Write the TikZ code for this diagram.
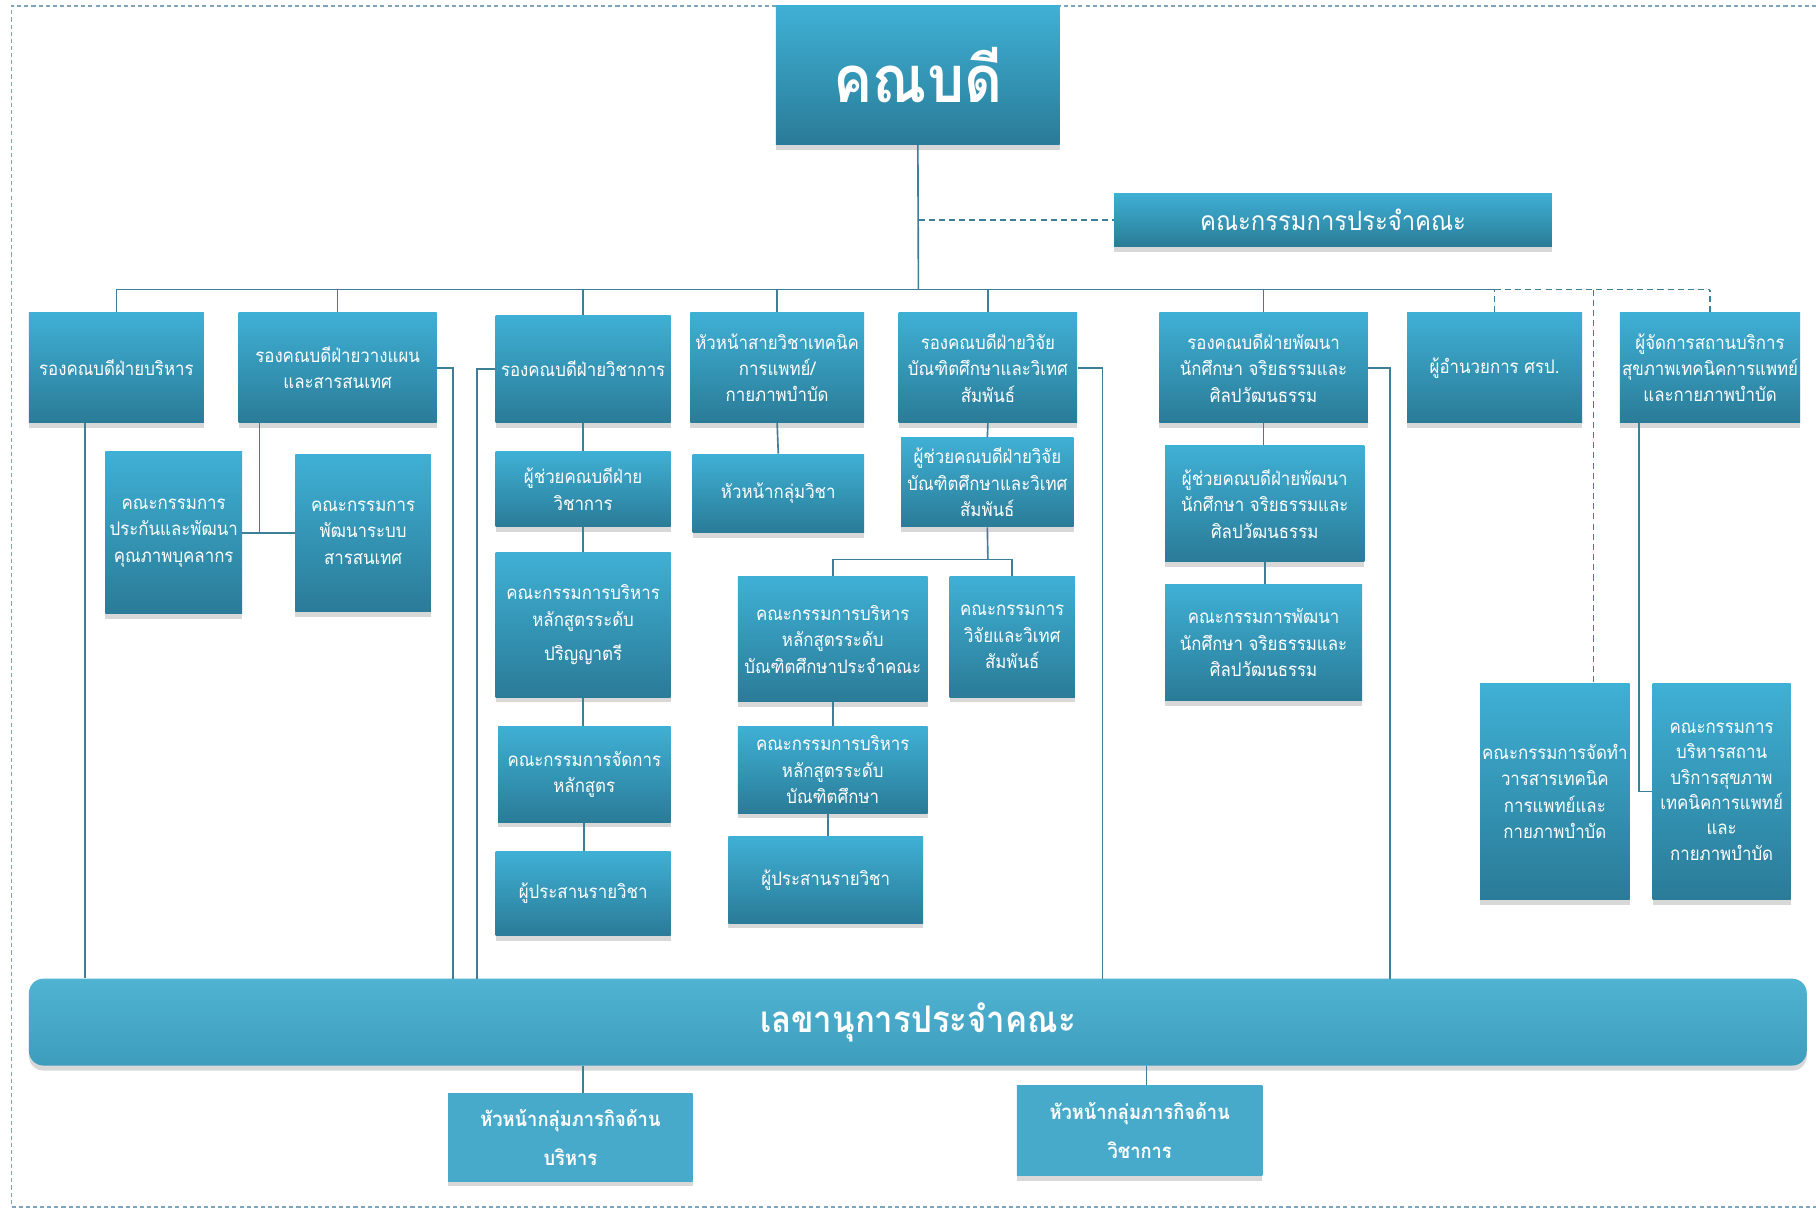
\documentclass[tikz,border=0pt]{standalone}
\usepackage{fontspec}
\setmainfont[Script=Thai,FakeStretch=0.9]{Loma}
\usetikzlibrary{calc,shadows}
\definecolor{boxtop}{HTML}{3FB0D5}
\definecolor{boxbot}{HTML}{2A7B97}
\definecolor{lnc}{HTML}{3D7F96}
\definecolor{brd}{HTML}{7FA3BA}
\definecolor{flatc}{HTML}{48AACA}
\definecolor{bartop}{HTML}{50B3D2}
\definecolor{barbot}{HTML}{3E9DBD}
\newcommand\orgbox[7][]{%
 \pgfmathsetmacro\bw{(#5-#3)*0.02}%
 \pgfmathsetmacro\bh{(#6-#4)*0.02}%
 \node[bx,#1,minimum width=\bw cm,minimum height=\bh cm] (#2) at ({(#3+#5)/2},{(#4+#6)/2}) {#7};}
\tikzset{
 bx/.style={draw=none,top color=boxtop,bottom color=boxbot,text=white,align=center,inner sep=1pt,
   font=\fontsize{9.2}{13}\selectfont,
   drop shadow={opacity=0.3,shadow xshift=0pt,shadow yshift=-2.5pt}},
 flatbox/.style={top color=flatc,bottom color=flatc,font=\fontsize{10}{19}\selectfont\bfseries},
 ln/.style={draw=lnc,line width=0.8pt},
 dsh/.style={dash pattern=on 3pt off 2pt}
}
\begin{document}
\begin{tikzpicture}[x=0.02cm,y=-0.02cm]
\fill[white] (0,0) rectangle (1568,1051);
\useasboundingbox (0,0) rectangle (1568,1051);
\draw[brd,line width=0.8pt,dash pattern=on 2pt off 1.5pt] (1568,5) -- (10,5) -- (10,1042) -- (1568,1042);

% top
\orgbox[font=\fontsize{32}{36}\selectfont\bfseries]{dean}{670}{5}{915}{125}{คณบดี}
\orgbox[font=\fontsize{13}{16}\selectfont]{comm}{962}{167}{1340}{213}{คณะกรรมการประจำคณะ}

% row 1
\orgbox{b1}{25}{270}{176}{365}{รองคณบดีฝ่ายบริหาร}
\orgbox{b2}{206}{270}{377}{365}{รองคณบดีฝ่ายวางแผน\\และสารสนเทศ}
\orgbox{b3}{428}{272}{579}{365}{รองคณบดีฝ่ายวิชาการ}
\orgbox{b4}{596}{270}{746}{365}{หัวหน้าสายวิชาเทคนิค\\การแพทย์/\\กายภาพบำบัด}
\orgbox{b5}{776}{270}{930}{365}{รองคณบดีฝ่ายวิจัย\\บัณฑิตศึกษาและวิเทศ\\สัมพันธ์}
\orgbox{b6}{1001}{270}{1181}{365}{รองคณบดีฝ่ายพัฒนา\\นักศึกษา จริยธรรมและ\\ศิลปวัฒนธรรม}
\orgbox{b7}{1215}{270}{1366}{365}{ผู้อำนวยการ ศรป.}
\orgbox{b8}{1400}{270}{1553}{365}{ผู้จัดการสถานบริการ\\สุขภาพเทคนิคการแพทย์\\และกายภาพบำบัด}

% under b2
\orgbox{q1}{91}{390}{209}{530}{คณะกรรมการ\\ประกันและพัฒนา\\คุณภาพบุคลากร}
\orgbox{q2}{255}{392}{372}{528}{คณะกรรมการ\\พัฒนาระบบ\\สารสนเทศ}

% under b3
\orgbox{a1}{428}{390}{579}{455}{ผู้ช่วยคณบดีฝ่าย\\วิชาการ}
\orgbox{a2}{428}{477}{579}{602}{คณะกรรมการบริหาร\\หลักสูตรระดับ\\[4pt]ปริญญาตรี}
\orgbox{a3}{430}{627}{579}{710}{คณะกรรมการจัดการ\\หลักสูตร}
\orgbox{a4}{428}{735}{579}{808}{ผู้ประสานรายวิชา}

% under b4
\orgbox{h1}{598}{392}{746}{460}{หัวหน้ากลุ่มวิชา}

% under b5
\orgbox{r1}{778}{378}{927}{455}{ผู้ช่วยคณบดีฝ่ายวิจัย\\บัณฑิตศึกษาและวิเทศ\\สัมพันธ์}
\orgbox{g1}{637}{498}{801}{606}{คณะกรรมการบริหาร\\หลักสูตรระดับ\\บัณฑิตศึกษาประจำคณะ}
\orgbox{rv}{820}{498}{928}{602}{คณะกรรมการ\\วิจัยและวิเทศ\\สัมพันธ์}
\orgbox{g2}{637}{627}{801}{702}{คณะกรรมการบริหาร\\หลักสูตรระดับ\\บัณฑิตศึกษา}
\orgbox{g3}{629}{722}{797}{797}{ผู้ประสานรายวิชา}

% under b6
\orgbox{s1}{1006}{385}{1178}{485}{ผู้ช่วยคณบดีฝ่ายพัฒนา\\นักศึกษา จริยธรรมและ\\ศิลปวัฒนธรรม}
\orgbox{s2}{1006}{505}{1176}{605}{คณะกรรมการพัฒนา\\นักศึกษา จริยธรรมและ\\ศิลปวัฒนธรรม}

% right
\orgbox{jour}{1280}{590}{1405}{777}{คณะกรรมการจัดทำ\\วารสารเทคนิค\\การแพทย์และ\\กายภาพบำบัด}
\orgbox[font=\fontsize{9.2}{12.5}\selectfont]{bc}{1427}{590}{1546}{777}{คณะกรรมการ\\บริหารสถาน\\บริการสุขภาพ\\เทคนิคการแพทย์\\และ\\กายภาพบำบัด}

% secretary bar
\orgbox[rounded corners=0.25cm,top color=bartop,bottom color=barbot,font=\fontsize{18}{22}\selectfont\bfseries]{bar}{25}{845}{1560}{920}{เลขานุการประจำคณะ}

\orgbox[flatbox]{k1}{387}{944}{598}{1020}{หัวหน้ากลุ่มภารกิจด้าน\\บริหาร}
\orgbox[flatbox]{k2}{878}{937}{1090}{1015}{หัวหน้ากลุ่มภารกิจด้าน\\วิชาการ}

% ---- connectors ----
\coordinate (busy) at (793,250);
\draw[ln] (dean.south) -- (busy);
\draw[ln,dsh] (busy |- comm.west) -- (comm.west);
\draw[ln] (b1.north |- busy) -- (b7.north |- busy);
\draw[ln,dsh] (b7.north |- busy) -- (b8.north |- busy);
\foreach \n in {b1,b2,b3,b4,b5,b6}{\draw[ln] (\n.north) -- (\n.north |- busy);}
\draw[ln,dsh] (b7.north) -- (b7.north |- busy);
\draw[ln,dsh] (b8.north) -- (b8.north |- busy);
\coordinate (dj) at (1376,250);
\draw[ln,dsh] (dj) -- (dj |- jour.north);

% left group
\coordinate (v1) at ($(b1.south west)+(49,0)$);
\draw[ln] (v1) -- (v1 |- bar.north);
\coordinate (j2) at (224,460);
\draw[ln] (j2 |- b2.south) -- (j2);
\draw[ln] (q1.east) -- (q2.west);
\coordinate (v2) at (391,845);
\draw[ln] (b2.east) -| (v2);
\coordinate (v3) at (412,845);
\draw[ln] (b3.west) -| (v3);

% academic column
\draw[ln] (b3.south) -- (a1.north);
\draw[ln] (a1.south) -- (a2.north);
\draw[ln] (a2.south) -- (a2.south |- a3.north);
\draw[ln] (a3.south) -- (a3.south |- a4.north);
\draw[ln] (b4.south) -- (h1.north);

% research column
\draw[ln] (b5.south) -- (r1.north);
\coordinate (j5) at (853,483);
\draw[ln] (r1.south) -- (j5);
\draw[ln] (g1.north) |- (j5);
\draw[ln] (rv.north) |- (j5);
\draw[ln] (g1.south) -- (g2.north);
\coordinate (g2b) at ($(g2.south)+(-4,0)$);
\draw[ln] (g2b) -- (g2b |- g3.north);
\coordinate (v5) at (952,845);
\draw[ln] (b5.east) -| (v5);

% student column
\draw[ln] (b6.south) -- (b6.south |- s1.north);
\draw[ln] (s1.south) -- (s1.south |- s2.north);
\coordinate (v6) at (1200,845);
\draw[ln] (b6.east) -| (v6);

% clinic
\coordinate (j8) at ($(b8.south west)+(17,0)$);
\draw[ln] (j8) |- (bc.west);

% bottom
\coordinate (k1t) at ($(k1.north)+(11,0)$);
\draw[ln] (bar.south -| k1t) -- (k1t);
\coordinate (k2t) at ($(k2.north)+(6,0)$);
\draw[ln] (bar.south -| k2t) -- (k2t);
\end{tikzpicture}
\end{document}
